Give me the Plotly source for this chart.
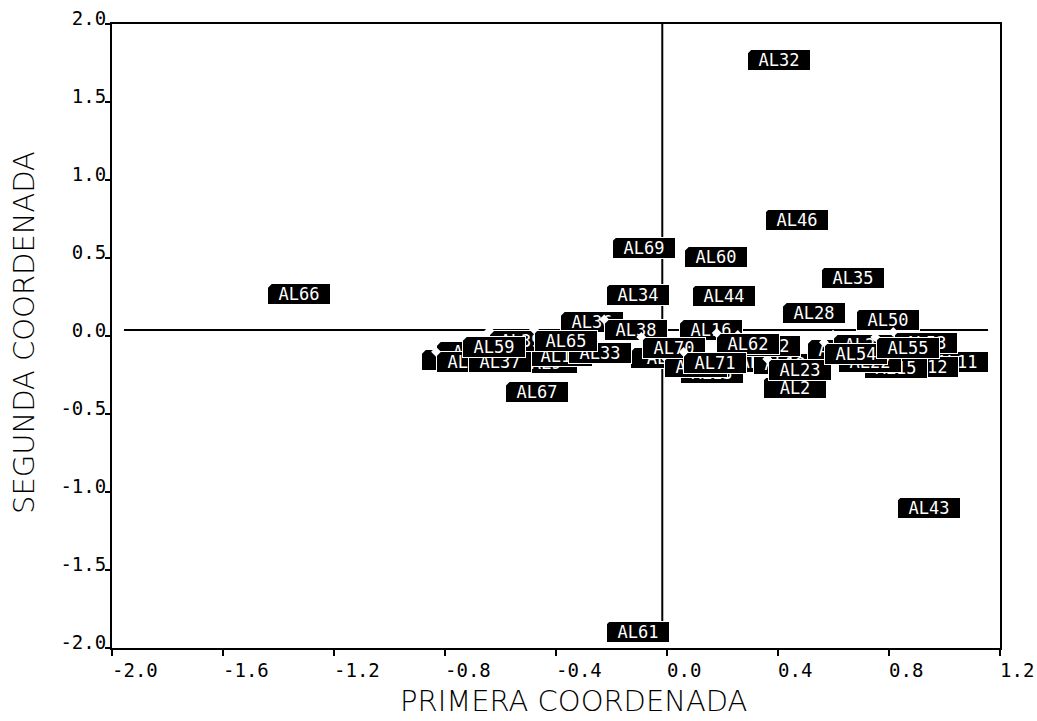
import plotly.graph_objects as go

# ---- data ----
labels = ["AL2", "AL5", "AL7", "AL8", "AL9", "AL10", "AL11", "AL12", "AL13", "AL14",
          "AL15", "AL16", "AL17", "AL18", "AL19", "AL20", "AL22", "AL23", "AL24", "AL28",
          "AL32", "AL33", "AL34", "AL35", "AL36", "AL37", "AL38", "AL39", "AL42", "AL43",
          "AL44", "AL46", "AL50", "AL53", "AL54", "AL55", "AL59", "AL60", "AL61", "AL62",
          "AL65", "AL66", "AL67", "AL69", "AL70", "AL71"]
coord1 = [0.461, -0.771, -0.717, -0.018, -0.436, -0.382, 1.045, 0.937, 0.162, 0.105,
          0.825, 0.159, 0.335, 0.425, 0.620, 0.714, 0.732, 0.479, -0.717, 0.530,
          0.404, -0.241, -0.105, 0.670, -0.270, -0.602, -0.110, -0.526, 0.368, 0.944,
          0.205, 0.468, 0.796, 0.933, 0.681, 0.868, -0.623, 0.177, -0.105, 0.292,
          -0.364, -1.326, -0.468, -0.083, 0.025, 0.173]
coord2 = [-0.333, -0.154, -0.103, -0.141, -0.173, -0.128, -0.167, -0.199, -0.237, -0.199,
          -0.205, 0.038, -0.167, -0.179, -0.090, -0.058, -0.167, -0.218, -0.167, 0.147,
          1.772, -0.109, 0.263, 0.372, 0.090, -0.167, 0.038, -0.035, -0.064, -1.103,
          0.256, 0.744, 0.103, -0.045, -0.115, -0.077, -0.071, 0.506, -1.897, -0.051,
          -0.032, 0.269, -0.359, 0.561, -0.077, -0.173]

x_tickvals = [-2.0, -1.6, -1.2, -0.8, -0.4, 0.0, 0.4, 0.8, 1.2]
x_ticktext = ["-2.0", "-1.6", "-1.2", "-0.8", "-0.4", "0.0", "0.4", "0.8", "1.2"]
y_tickvals = [-2.0, -1.5, -1.0, -0.5, 0.0, 0.5, 1.0, 1.5, 2.0]
y_ticktext = ["-2.0", "-1.5", "-1.0", "-0.5", "0.0", "0.5", "1.0", "1.5", "2.0"]

x_title = "PRIMERA COORDENADA"
y_title = "SEGUNDA COORDENADA"

# reference cross lines
ref_x = -0.017
ref_y = 0.038
hline_span = (-1.957, 1.157)
vline_span = (-1.93, 2.0)

# ---- figure ----
MONO = "DejaVu Sans Mono"
fig = go.Figure()
fig.add_trace(go.Scatter(x=coord1, y=coord2, mode="markers", text=labels,
                         marker=dict(size=1, color="rgba(0,0,0,0)"),
                         hoverinfo="text", showlegend=False))

shapes = [
    dict(type="line", xref="x", yref="y", x0=hline_span[0], x1=hline_span[1],
         y0=ref_y, y1=ref_y, line=dict(color="black", width=2)),
    dict(type="line", xref="x", yref="y", x0=ref_x, x1=ref_x,
         y0=vline_span[0], y1=vline_span[1], line=dict(color="black", width=2)),
]

annotations = []
for name, xv, yv in zip(labels, coord1, coord2):
    annotations.append(dict(
        x=xv, y=yv, xref="x", yref="y", text=name, showarrow=False,
        xanchor="center", yanchor="middle",
        font=dict(family=MONO, size=17, color="white"),
        bgcolor="black", bordercolor="white", borderwidth=1, borderpad=1,
        width=60, height=18, align="center", valign="middle"))
    # chamfered top-left corner
    annotations.append(dict(
        x=xv, y=yv, xref="x", yref="y", text="\u00a0", showarrow=False,
        xanchor="center", yanchor="middle", xshift=-32, yshift=11,
        font=dict(family=MONO, size=4, color="white"),
        bgcolor="white", borderwidth=0, borderpad=0,
        width=7, height=7, textangle=45))

# x tick labels, left-aligned at their ticks
for tv, tt in zip(x_tickvals, x_ticktext):
    annotations.append(dict(
        x=tv, y=0, xref="x", yref="paper", text=tt, showarrow=False,
        xanchor="left", yanchor="top", xshift=-2, yshift=-9,
        font=dict(family=MONO, size=19, color="black")))

annotations.append(dict(
    x=0.520, y=-0.085, xref="paper", yref="paper", text=x_title, showarrow=False,
    xanchor="center", yanchor="middle",
    font=dict(family="DejaVu Sans", size=29, color="black", weight=200)))
annotations.append(dict(
    x=-0.099, y=0.505, xref="paper", yref="paper", text=y_title, showarrow=False,
    xanchor="center", yanchor="middle", textangle=-90,
    font=dict(family="DejaVu Sans", size=29, color="black", weight=200)))

fig.update_layout(
    width=1037, height=721,
    margin=dict(l=112, r=37, t=24, b=73, pad=0, autoexpand=False),
    paper_bgcolor="white", plot_bgcolor="white",
    shapes=shapes, annotations=annotations,
    showlegend=False,
    xaxis=dict(range=[-2.0, 1.2], tickmode="array", tickvals=x_tickvals,
               showticklabels=False, automargin=False,
               ticks="outside", ticklen=6, tickwidth=2, tickcolor="black",
               showline=True, linecolor="black", linewidth=2, mirror=True,
               showgrid=False, zeroline=False),
    yaxis=dict(range=[-2.0, 2.0], tickmode="array", tickvals=y_tickvals,
               ticktext=y_ticktext, automargin=False,
               ticks="outside", ticklen=5, tickwidth=2, tickcolor="black",
               showline=True, linecolor="black", linewidth=2, mirror=True,
               showgrid=False, zeroline=False, ticklabelshift=-6,
               ticklabelstandoff=-5,
               tickfont=dict(family=MONO, size=19, color="black")),
)

fig.write_html("out.html")
